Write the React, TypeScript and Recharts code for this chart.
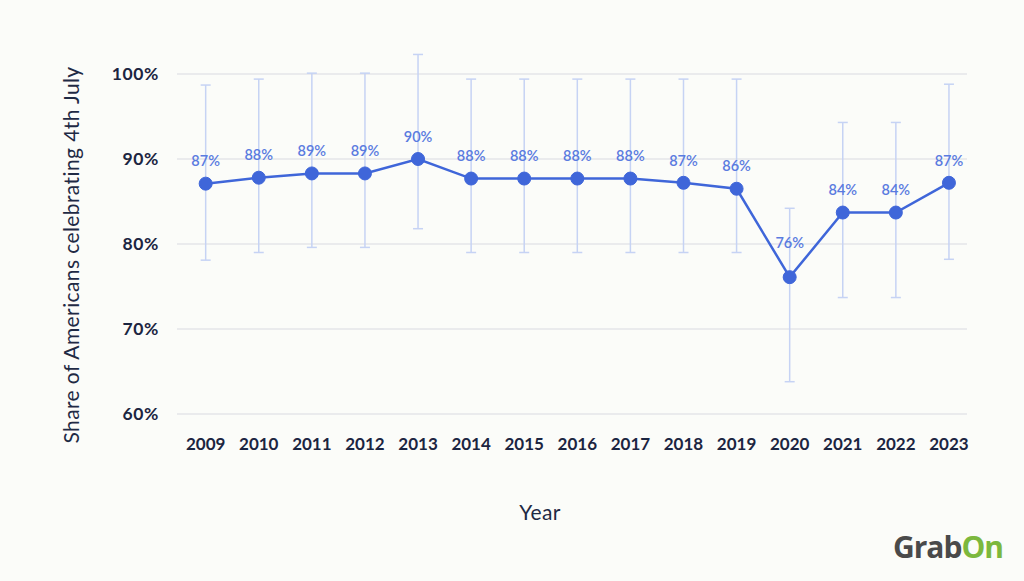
import React from 'react';
import { LineChart, Line, XAxis, YAxis, CartesianGrid, ErrorBar, LabelList } from 'recharts';

const years = [2009, 2010, 2011, 2012, 2013, 2014, 2015, 2016, 2017, 2018, 2019, 2020, 2021, 2022, 2023];
const shares = [87.1, 87.8, 88.3, 88.3, 90.0, 87.7, 87.7, 87.7, 87.7, 87.2, 86.5, 76.1, 83.7, 83.7, 87.2];
const lows = [78.1, 79.0, 79.6, 79.6, 81.8, 79.0, 79.0, 79.0, 79.0, 79.0, 79.0, 63.8, 73.7, 73.7, 78.2];
const highs = [98.7, 99.4, 100.1, 100.1, 102.3, 99.4, 99.4, 99.4, 99.4, 99.4, 99.4, 84.2, 94.3, 94.3, 98.8];
const pointLabels = ['87%', '88%', '89%', '89%', '90%', '88%', '88%', '88%', '88%', '87%', '86%', '76%', '84%', '84%', '87%'];
const yTicks = [60, 70, 80, 90, 100];

const data = years.map((year, i) => ({
  year,
  share: shares[i],
  err: [shares[i] - lows[i], highs[i] - shares[i]],
  label: pointLabels[i],
}));

const isDip = (i: number) =>
  i > 0 && i < shares.length - 1 && shares[i] < shares[i - 1] && shares[i] < shares[i + 1];

const FONT = 'Lato, "Open Sans", sans-serif';
const BLUE = '#3f66d9';

const renderLabel = (props: any) => {
  const { x, y, value, index } = props;
  const off = isDip(index) ? 33 : 21;
  return (
    <text
      x={x}
      y={y - off}
      textAnchor="middle"
      dominantBaseline="middle"
      fill="#5a7be0"
      fontSize={14.5}
      fontWeight={600}
      fontFamily={FONT}
    >
      {value}
    </text>
  );
};

export default function App() {
  return (
    <div
      style={{
        position: 'absolute',
        left: 0,
        top: 0,
        width: 1024,
        height: 581,
        background: '#fbfcf9',
        fontFamily: FONT,
        overflow: 'hidden',
      }}
    >
      <LineChart
        width={1024}
        height={581}
        data={data}
        margin={{ top: 74, right: 57, bottom: 107, left: 0 }}
      >
        <CartesianGrid vertical={false} stroke="#e5e6e9" strokeWidth={1.5} />
        <XAxis
          dataKey="year"
          type="number"
          domain={[2008.46, 2023.34]}
          ticks={years}
          interval={0}
          axisLine={false}
          tickLine={false}
          tickSize={0}
          tickMargin={24}
          height={60}
          tick={{ fill: '#1b2541', fontSize: 17, fontWeight: 700, fontFamily: FONT }}
        />
        <YAxis
          type="number"
          domain={[60, 100]}
          allowDataOverflow
          ticks={yTicks}
          interval={0}
          width={177}
          axisLine={false}
          tickLine={false}
          tickSize={0}
          tickMargin={18}
          tickFormatter={(v: number) => `${v}%`}
          tick={{ fill: '#1b2541', fontSize: 17.5, fontWeight: 700, fontFamily: FONT, letterSpacing: 0.6 }}
        />
        <Line
          dataKey="share"
          stroke={BLUE}
          strokeWidth={2.5}
          dot={{ r: 6.5, fill: BLUE, stroke: BLUE, strokeWidth: 1 }}
          activeDot={false}
          isAnimationActive={false}
        >
          <ErrorBar dataKey="err" direction="y" width={5} stroke="#c6d3f4" strokeWidth={1.5} />
          <LabelList dataKey="label" content={renderLabel} />
        </Line>
      </LineChart>
      <div
        style={{
          position: 'absolute',
          left: 70,
          top: 255,
          transform: 'translate(-50%, -50%) rotate(-90deg)',
          whiteSpace: 'nowrap',
          fontSize: 21,
          letterSpacing: 0.4,
          color: '#1f2a44',
        }}
      >
        Share of Americans celebrating 4th July
      </div>
      <div
        style={{
          position: 'absolute',
          left: 540,
          top: 511,
          transform: 'translate(-50%, -50%)',
          whiteSpace: 'nowrap',
          fontSize: 21,
          letterSpacing: 0.4,
          color: '#1f2a44',
        }}
      >
        Year
      </div>
      <div
        style={{
          position: 'absolute',
          left: 893,
          top: 529,
          whiteSpace: 'nowrap',
          fontSize: 30,
          fontWeight: 700,
          letterSpacing: -1,
          fontFamily: '"Open Sans", sans-serif',
          lineHeight: '36px',
        }}
      >
        <span style={{ color: '#4a4a4a' }}>Grab</span>
        <span style={{ color: '#7cb83e' }}>On</span>
      </div>
    </div>
  );
}
